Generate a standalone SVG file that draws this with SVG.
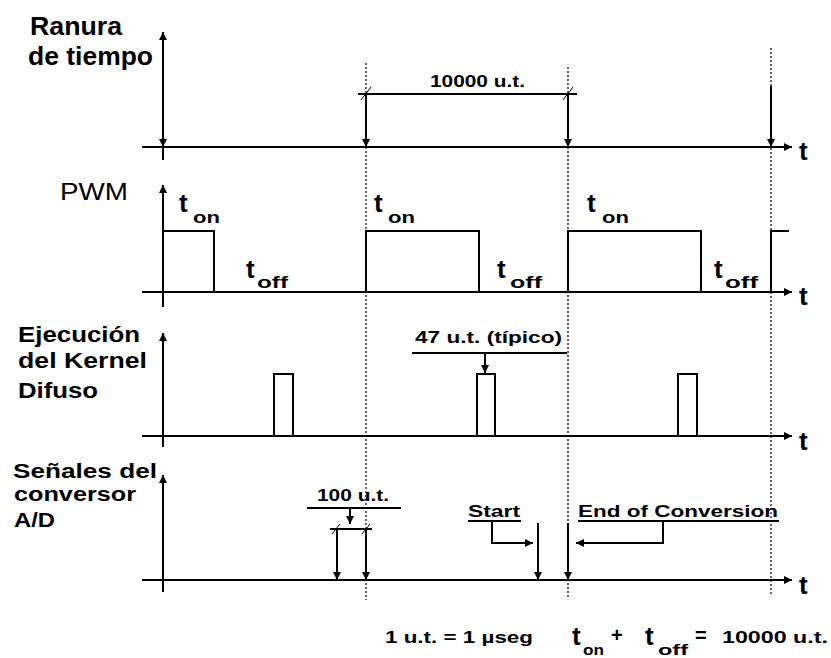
<svg xmlns="http://www.w3.org/2000/svg" width="831" height="658" viewBox="0 0 831 658">
<style>
  .ln { stroke:#000; stroke-width:2; fill:none; }
  .thin { stroke:#000; stroke-width:1; fill:none; }
  .dot { stroke:#000; stroke-width:1.2; stroke-dasharray:2 2; fill:none; }
  .arr { stroke:#000; stroke-width:2; fill:none; marker-end:url(#ah); }
  .lbl { font-family:"Liberation Sans", Arial, sans-serif; font-weight:bold; fill:#000; }
  .big { font-size:26px; }
  .sub { font-size:17px; }
  .sm { font-size:16px; }
  .row { font-size:22px; }
</style>
<defs>
  <marker id="ah" viewBox="0 0 8 8" refX="8" refY="4" markerWidth="8" markerHeight="8" markerUnits="userSpaceOnUse" orient="auto">
    <path d="M0,0 L8,4 L0,8 z" fill="#000"/>
  </marker>
</defs>
<rect width="831" height="658" fill="#fff"/>

<g id="guides">
  <line class="dot" x1="366" y1="63" x2="366" y2="600"/>
  <line class="dot" x1="568" y1="67" x2="568" y2="597"/>
  <line class="dot" x1="771" y1="48" x2="771" y2="595"/>
</g>

<g id="row-ranura">
  <text class="lbl" x="30" y="35" font-size="26" textLength="92" lengthAdjust="spacingAndGlyphs">Ranura</text>
  <text class="lbl" x="28" y="65" font-size="26" textLength="125" lengthAdjust="spacingAndGlyphs">de tiempo</text>
  <line class="ln" x1="142" y1="147" x2="790" y2="147"/>
  <text class="lbl big" x="799" y="160">t</text>
  <text class="lbl sm" x="430" y="87" textLength="95" lengthAdjust="spacingAndGlyphs">10000 u.t.</text>
  <line class="ln" x1="358" y1="94" x2="577" y2="94"/>
  <line class="thin" x1="361" y1="100" x2="371" y2="87"/>
  <line class="thin" x1="563" y1="100" x2="573" y2="87"/>
</g>

<g id="row-pwm">
  <text x="60" y="200" font-family="Liberation Sans, Arial, sans-serif" font-size="24" textLength="68" lengthAdjust="spacingAndGlyphs">PWM</text>
  <line class="ln" x1="142" y1="292" x2="790" y2="292"/>
  <text class="lbl big" x="799" y="305">t</text>
  <path class="ln" d="M163,231 H214 V292 M366,292 V231 H479 V292 M568,292 V231 H701 V292 M771,292 V231 H789"/>
  <text class="lbl big" x="179" y="212">t</text><text class="lbl sub" x="193" y="223" textLength="27" lengthAdjust="spacingAndGlyphs">on</text>
  <text class="lbl big" x="374" y="212">t</text><text class="lbl sub" x="388" y="223" textLength="27" lengthAdjust="spacingAndGlyphs">on</text>
  <text class="lbl big" x="587" y="212">t</text><text class="lbl sub" x="602" y="223" textLength="27" lengthAdjust="spacingAndGlyphs">on</text>
  <text class="lbl big" x="246" y="278">t</text><text class="lbl sub" x="257" y="288" textLength="31" lengthAdjust="spacingAndGlyphs">off</text>
  <text class="lbl big" x="497" y="278">t</text><text class="lbl sub" x="510" y="288" textLength="32" lengthAdjust="spacingAndGlyphs">off</text>
  <text class="lbl big" x="714" y="278">t</text><text class="lbl sub" x="725" y="288" textLength="33" lengthAdjust="spacingAndGlyphs">off</text>
</g>

<g id="row-kernel">
  <text class="lbl row" x="18" y="342" textLength="122" lengthAdjust="spacingAndGlyphs">Ejecución</text>
  <text class="lbl row" x="18" y="368" textLength="129" lengthAdjust="spacingAndGlyphs">del Kernel</text>
  <text class="lbl row" x="18" y="398" textLength="80" lengthAdjust="spacingAndGlyphs">Difuso</text>
  <line class="ln" x1="142" y1="436" x2="790" y2="436"/>
  <text class="lbl big" x="799" y="450">t</text>
  <path class="ln" d="M274,436 V374 H293 V436 M477,436 V374 H495 V436 M678,436 V374 H697 V436"/>
  <text class="lbl sm" x="415" y="343" textLength="147" lengthAdjust="spacingAndGlyphs">47 u.t. (típico)</text>
  <line class="ln" x1="412" y1="353" x2="567" y2="353"/>
</g>

<g id="row-ad">
  <text class="lbl" x="13" y="478" font-size="20" textLength="144" lengthAdjust="spacingAndGlyphs">Señales del</text>
  <text class="lbl" x="14" y="501" font-size="20" textLength="122" lengthAdjust="spacingAndGlyphs">conversor</text>
  <text class="lbl" x="14" y="527" font-size="20" textLength="41" lengthAdjust="spacingAndGlyphs">A/D</text>
  <line class="ln" x1="142" y1="580" x2="790" y2="580"/>
  <text class="lbl big" x="799" y="594">t</text>
  <text class="lbl sm" x="317" y="501" textLength="72" lengthAdjust="spacingAndGlyphs">100 u.t.</text>
  <line class="ln" x1="307" y1="508" x2="401" y2="508"/>
  <line class="ln" x1="330" y1="529" x2="372" y2="529"/>
  <line class="thin" x1="332" y1="534" x2="340" y2="524"/>
  <line class="thin" x1="362" y1="534" x2="370" y2="524"/>
  <text class="lbl sm" x="468" y="517" textLength="52" lengthAdjust="spacingAndGlyphs">Start</text>
  <line class="ln" x1="468" y1="521" x2="521" y2="521"/>
  <text class="lbl sm" x="578" y="517" textLength="200" lengthAdjust="spacingAndGlyphs">End of Conversion</text>
  <line class="ln" x1="578" y1="521" x2="779" y2="521"/>
</g>

<g id="connectors">
  <line class="arr" x1="163" y1="160" x2="163" y2="32"/>
  <line class="arr" x1="163" y1="120" x2="163" y2="147"/>
  <line class="arr" x1="163" y1="307" x2="163" y2="185"/>
  <line class="arr" x1="163" y1="447" x2="163" y2="333"/>
  <line class="arr" x1="163" y1="592" x2="163" y2="475"/>
  <line class="arr" x1="780" y1="147" x2="792" y2="147"/>
  <line class="arr" x1="780" y1="292" x2="792" y2="292"/>
  <line class="arr" x1="780" y1="436" x2="792" y2="436"/>
  <line class="arr" x1="780" y1="580" x2="792" y2="580"/>
  <line class="arr" x1="366" y1="94" x2="366" y2="147"/>
  <line class="arr" x1="568" y1="94" x2="568" y2="147"/>
  <line class="arr" x1="771" y1="86" x2="771" y2="147"/>
  <line class="arr" x1="485" y1="353" x2="485" y2="373"/>
  <line class="arr" x1="350" y1="508" x2="350" y2="524"/>
  <line class="arr" x1="337" y1="529" x2="337" y2="580"/>
  <line class="arr" x1="366" y1="529" x2="366" y2="580"/>
  <path class="arr" d="M492,521 V543 H533"/>
  <line class="arr" x1="538" y1="523" x2="538" y2="580"/>
  <line class="arr" x1="568" y1="523" x2="568" y2="580"/>
  <path class="arr" d="M663,521 V543 H576"/>
</g>

<g id="formula">
  <text class="lbl sm" x="385" y="643" textLength="148" lengthAdjust="spacingAndGlyphs">1 u.t. = 1 µseg</text>
  <text class="lbl big" x="572" y="645">t</text>
  <text class="lbl" x="583" y="655" font-size="15" textLength="21" lengthAdjust="spacingAndGlyphs">on</text>
  <text class="lbl" x="611" y="642" font-size="20">+</text>
  <text class="lbl big" x="645" y="645">t</text>
  <text class="lbl" x="658" y="655" font-size="15" textLength="30" lengthAdjust="spacingAndGlyphs">off</text>
  <text class="lbl" x="695" y="642" font-size="20">=</text>
  <text class="lbl sm" x="722" y="643" textLength="106" lengthAdjust="spacingAndGlyphs">10000 u.t.</text>
</g>
</svg>
